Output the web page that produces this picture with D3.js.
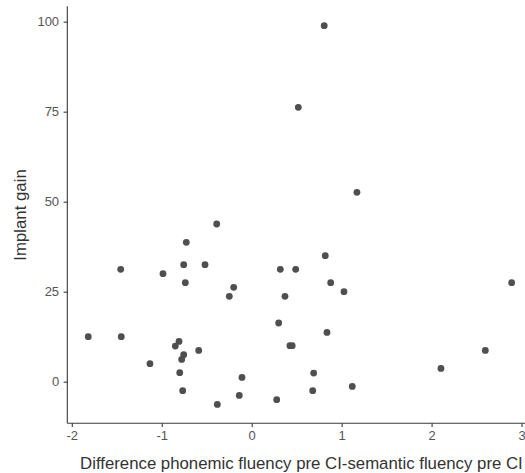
<!DOCTYPE html>
<html>
<head>
<meta charset="utf-8">
<script src="https://cdn.jsdelivr.net/npm/d3@7"></script>
<style>
  html, body { margin: 0; padding: 0; background: #fff; }
  svg { display: block; }
</style>
</head>
<body>
<svg id="chart" width="525" height="473"></svg>
<script>
// Data
const fluencyDiff = [0.806, 0.518, 1.17, -0.389, -0.727, 0.818, -1.456, -0.986, -0.756, -0.519,
  0.318, 0.489, -0.738, -0.2, 0.878, 2.89, -0.249, 0.37, 1.026, 0.3,
  -1.817, -1.45, 0.837, -0.808, -0.849, 0.425, 0.45, -0.589, 2.597, -0.756,
  -0.778, -1.131, 2.104, -0.8, 0.689, -0.108, 1.118, -0.767, 0.678, -0.138,
  0.278, -0.382];
const implantGain = [98.9, 76.2, 52.6, 43.8, 38.7, 35.0, 31.2, 30.0, 32.5, 32.5,
  31.2, 31.2, 27.5, 26.2, 27.5, 27.5, 23.7, 23.7, 25.0, 16.3,
  12.5, 12.5, 13.7, 11.2, 9.9, 10.0, 10.0, 8.7, 8.7, 7.5,
  6.2, 5.0, 3.7, 2.5, 2.4, 1.2, -1.3, -2.5, -2.5, -3.8,
  -5.0, -6.3];
const xTicks = [-2, -1, 0, 1, 2, 3];
const yTicks = [0, 25, 50, 75, 100];
const xTitle = "Difference phonemic fluency pre CI-semantic fluency pre CI";
const yTitle = "Implant gain";

const svg = d3.select("#chart");
const font = "'Liberation Sans', Arial, sans-serif";

const left = 67.3, bottom = 423.3;
const x = d3.scaleLinear().domain([-2.05, 3.15]).range([left, left + 5.2 * 89.95]);
const y = d3.scaleLinear().domain([-11.5, 104.3]).range([423.1, 6.2]);

const points = fluencyDiff.map((d, i) => ({x: d, y: implantGain[i]}));

// points
svg.append("g").selectAll("circle").data(points).join("circle")
  .attr("cx", d => x(d.x)).attr("cy", d => y(d.y)).attr("r", 3.4)
  .attr("fill", "#4f4f4f");

const fmt = d => String(d);
// x axis
const xAxis = svg.append("g").attr("transform", `translate(0,${bottom})`)
  .call(d3.axisBottom(x).tickValues(xTicks).tickFormat(fmt).tickSizeOuter(0).tickSize(3.7).tickPadding(4));
// y axis
const yAxis = svg.append("g").attr("transform", `translate(${left},0)`)
  .call(d3.axisLeft(y).tickValues(yTicks).tickFormat(fmt).tickSizeOuter(0).tickSize(3.7).tickPadding(4.5));

[xAxis, yAxis].forEach(g => {
  g.select(".domain").attr("stroke", "#3a3a3a").attr("stroke-width", 1.1);
  g.selectAll(".tick line").attr("stroke", "#3a3a3a").attr("stroke-width", 1.1);
  g.selectAll(".tick text").attr("fill", "#555").style("font-family", font).style("font-size", "13px");
});
// extend domain lines to match reference
xAxis.select(".domain").attr("d", `M${left},0H${x(3.15)}`);
yAxis.select(".domain").attr("d", `M0,${bottom}V${y(104.3)}`);

// titles
svg.append("text").attr("x", 301.4).attr("y", 469.3).attr("text-anchor", "middle")
  .style("font-family", font).style("font-size", "16.8px").attr("fill", "#333")
  .text(xTitle);
svg.append("text").attr("transform", "translate(25.5,215) rotate(-90)").attr("text-anchor", "middle")
  .style("font-family", font).style("font-size", "16.8px").attr("fill", "#333")
  .text(yTitle);
</script>
</body>
</html>
